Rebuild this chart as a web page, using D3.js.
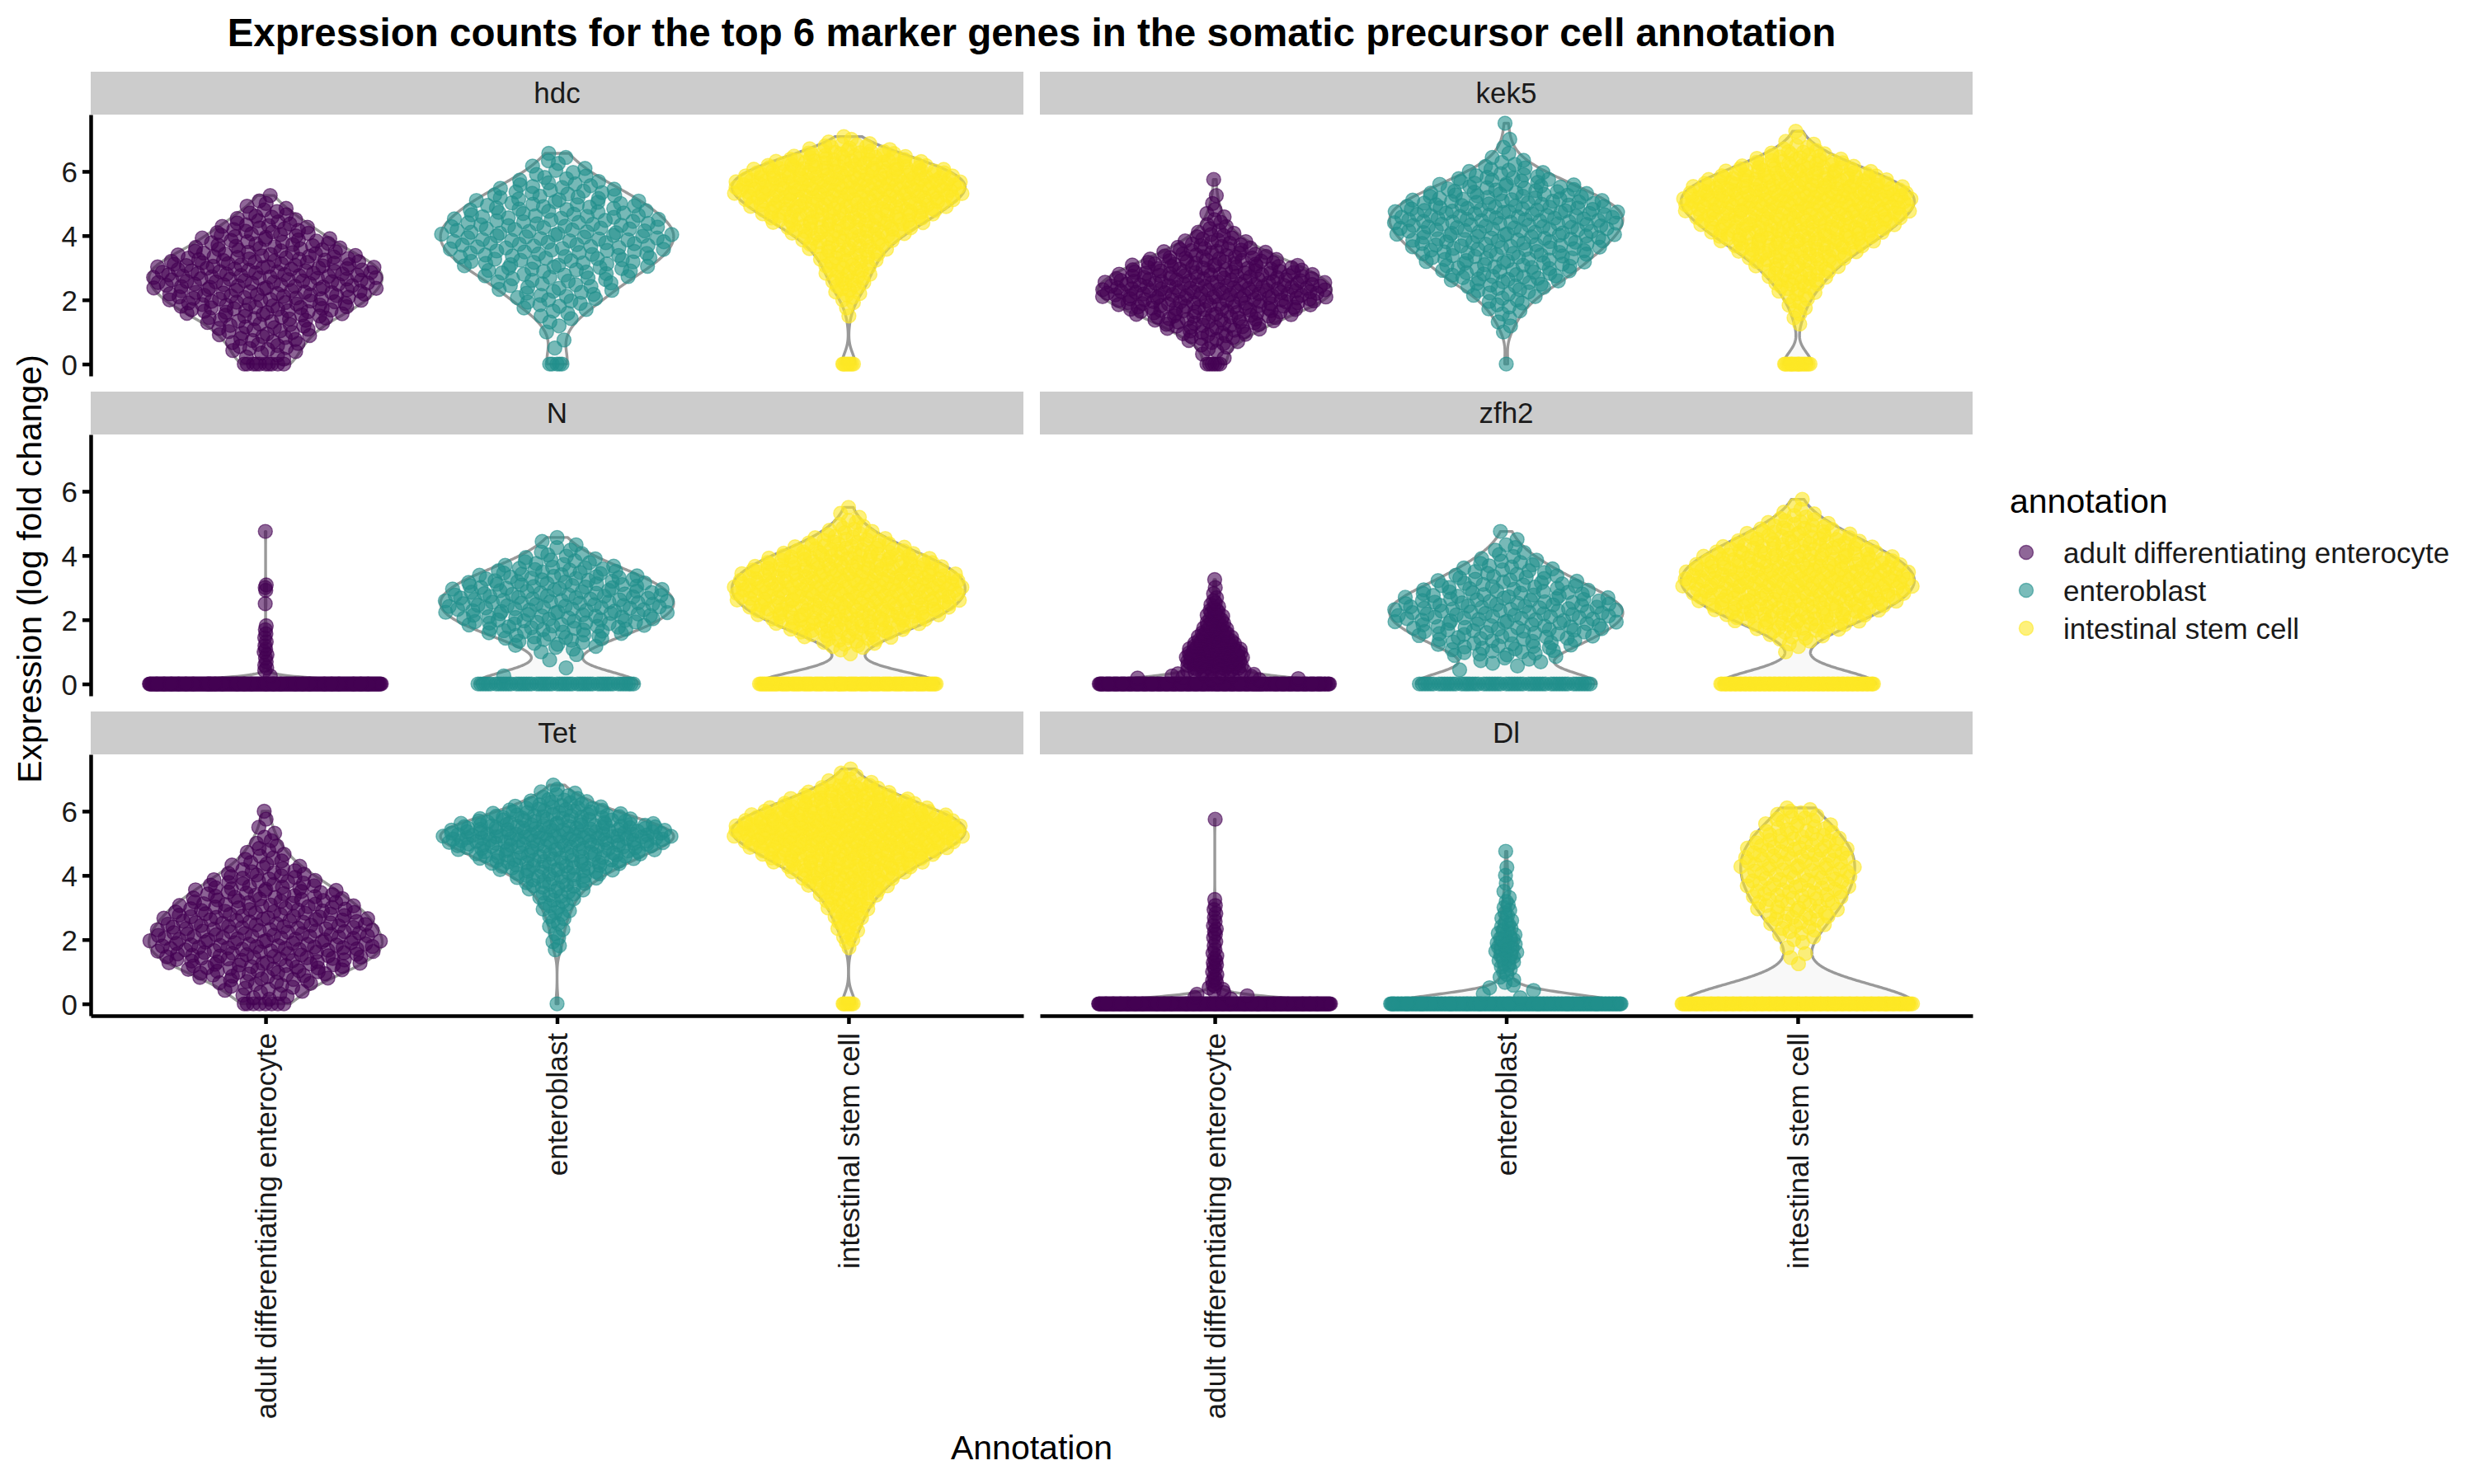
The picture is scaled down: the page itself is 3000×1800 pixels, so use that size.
<!DOCTYPE html>
<html><head><meta charset="utf-8">
<script src="https://cdn.jsdelivr.net/npm/d3@7"></script>
<style>body{margin:0;background:#fff}svg{display:block}</style>
</head><body><svg id="chart" width="3000" height="1800"></svg>
<script>
// ---------------- data ----------------
const genes = ["hdc", "kek5", "N", "zfh2", "Tet", "Dl"];
const annotations = ["adult differentiating enterocyte", "enteroblast", "intestinal stem cell"];
const annotationColors = ["#440154", "#21908C", "#FDE725"];
const yTicks = [0, 2, 4, 6];
const binWidth = 0.25; // count arrays: index i holds cells with expression near (i+1)*0.25

// number of cells with zero expression, per annotation
const hdcZeros = [10, 5, 8];
const kek5Zeros = [6, 1, 18];
const nZeros = [280, 55, 112];
const zfh2Zeros = [220, 55, 95];
const tetZeros = [8, 1, 8];
const dlZeros = [280, 200, 160];

// counts of expressing cells per 0.25 bin (starting at 0.25)
const hdcAdult = [4,8,8,10,11,15,19,21,22,24,25,24,21,17,14,12,10,7,5,3,1];
const hdcEnteroblast = [0,1,1,1,2,3,5,7,8,9,11,14,15,16,17,18,17,16,14,13,11,9,6,4,3,2];
const hdcStem = [0,0,0,0,0,1,1,3,5,7,8,9,10,13,15,19,24,29,34,37,42,45,44,38,31,21,11,3];

const kek5Adult = [2,4,8,12,16,22,28,33,37,34,31,27,20,15,10,7,4,3,2,1,1,0,1];
const kek5Enteroblast = [0,0,0,1,2,2,4,5,7,10,13,14,16,18,20,21,23,23,24,21,18,14,11,7,4,2,1,1,0,1];
const kek5Stem = [0,0,0,0,1,2,3,4,6,9,11,13,17,21,26,30,34,37,40,43,44,40,34,27,18,12,5,2,1];

const nAdult = [1,3,2,3,2,2,2,0,0,1,0,3,0,0,0,0,0,0,1];
const nEnteroblast = [1,1,1,3,8,12,17,20,22,23,22,20,18,14,9,6,3,2];
const nStem = [0,0,0,2,8,14,22,29,33,37,39,40,39,36,32,26,18,12,7,4,2,1];

const zfh2Adult = [15,25,33,30,22,17,12,9,7,4,2,1,1];
const zfh2Enteroblast = [0,2,6,11,13,16,19,21,22,21,18,15,12,9,7,4,3,1,1];
const zfh2Stem = [0,0,0,1,3,7,14,20,26,30,34,36,37,36,33,29,24,19,14,9,5,2,1];

const tetAdult = [6,8,12,17,20,23,25,24,23,22,21,19,17,15,12,10,7,5,4,3,2,1,1,1];
const tetEnteroblast = [0,0,0,0,0,0,2,2,2,3,4,5,6,8,11,15,20,26,31,38,44,38,27,19,12,6,2];
const tetStem = [0,0,0,0,0,0,1,3,4,5,7,8,10,13,17,20,26,32,38,44,49,51,45,37,28,20,12,5,2];

const dlAdult = [5,5,4,3,4,3,2,2,3,2,2,2,1,0,0,0,0,0,0,0,0,0,1];
const dlEnteroblast = [2,3,3,3,5,7,8,7,5,4,3,3,2,1,1,1,1,0,1];
const dlStem = [0,0,0,0,1,2,1,3,5,7,9,10,11,12,13,13,14,14,14,12,11,8,7,5];

const geneZeros = {hdc: hdcZeros, kek5: kek5Zeros, N: nZeros, zfh2: zfh2Zeros, Tet: tetZeros, Dl: dlZeros};
const geneBins = {
  hdc: [hdcAdult, hdcEnteroblast, hdcStem],
  kek5: [kek5Adult, kek5Enteroblast, kek5Stem],
  N: [nAdult, nEnteroblast, nStem],
  zfh2: [zfh2Adult, zfh2Enteroblast, zfh2Stem],
  Tet: [tetAdult, tetEnteroblast, tetStem],
  Dl: [dlAdult, dlEnteroblast, dlStem]
};

// ---------------- layout ----------------
const FONT = '"Liberation Sans", Arial, Helvetica, sans-serif';
const L = {left: [110, 1261], panelW: 1131, stripTop: 87, stripH: 52, panelH: 317, rowGap: 19};
const R = 8.5;
const svg = d3.select("#chart");

const x = d3.scalePoint().domain(annotations).range([0, L.panelW]).padding(0.6);
const y = d3.scaleLinear().domain([-0.37, 7.77]).range([L.panelH, 0]);
const color = d3.scaleOrdinal().domain(annotations).range(annotationColors);
const halfW = x.step() * 0.4;

function expand(nZero, counts) {
  const v = new Array(nZero).fill(0);
  counts.forEach((c, i) => {
    const center = (i + 1) * binWidth;
    for (let j = 0; j < c; j++) v.push(center + ((j + 0.5) / c - 0.5) * binWidth);
  });
  return v.sort(d3.ascending);
}
function bandwidth(v) {
  const sd = d3.deviation(v) || 1;
  return 0.9 * sd * Math.pow(v.length, -0.2);
}
function kde(v, bw, t) {
  let s = 0;
  for (const xi of v) { const u = (t - xi) / bw; s += Math.exp(-0.5 * u * u); }
  return s / (v.length * bw * Math.sqrt(2 * Math.PI));
}
function vdc(n) {
  let r = 0, d = 1;
  while (n > 0) { d *= 2; r += (n % 2) / d; n = Math.floor(n / 2); }
  return r;
}

// ---------------- title ----------------
svg.append("text").attr("x", 1251).attr("y", 56).attr("text-anchor", "middle")
  .attr("font-family", FONT).attr("font-weight", "bold").attr("font-size", 47.5)
  .text("Expression counts for the top 6 marker genes in the somatic precursor cell annotation");

// ---------------- panels ----------------
genes.forEach((g, gi) => {
  const col = gi % 2, row = Math.floor(gi / 2);
  const px = L.left[col];
  const sTop = L.stripTop + row * (L.stripH + L.panelH + L.rowGap);
  const pTop = sTop + L.stripH;

  svg.append("rect").attr("x", px).attr("y", sTop).attr("width", L.panelW).attr("height", L.stripH)
    .attr("fill", "#cccccc");
  svg.append("text").attr("x", px + L.panelW / 2).attr("y", sTop + 38).attr("text-anchor", "middle")
    .attr("font-family", FONT).attr("font-size", 35).attr("fill", "#1a1a1a").text(g);

  const panel = svg.append("g").attr("transform", `translate(${px},${pTop})`);

  const groups = annotations.map((a, ai) => {
    const vals = expand(geneZeros[g][ai], geneBins[g][ai]);
    const bw = bandwidth(vals);
    const lo = vals[0], hi = vals[vals.length - 1];
    const grid = d3.range(400).map(k => lo + (hi - lo) * k / 399);
    const dens = grid.map(t => kde(vals, bw, t));
    const maxD = d3.max(dens);
    return {a, vals, bw, grid, dens, maxD};
  });

  const vg = panel.append("g");
  groups.forEach(G => {
    const cx = x(G.a);
    const right = G.grid.map((t, k) => [cx + G.dens[k] / G.maxD * halfW, y(t)]);
    const left = G.grid.map((t, k) => [cx - G.dens[k] / G.maxD * halfW, y(t)]).reverse();
    vg.append("path").attr("d", d3.line()(right.concat(left)) + "Z")
      .attr("fill", "#f8f8f8").attr("stroke", "#999999").attr("stroke-width", 3.4)
      .attr("stroke-linejoin", "round");
  });

  const pg = panel.append("g");
  groups.forEach(G => {
    const cx = x(G.a);
    const c = color(G.a);
    const pts = G.vals.map((v, k) => {
      const rel = Math.min(1, kde(G.vals, G.bw, v) / G.maxD);
      return {v, off: (2 * vdc(k + 1) - 1) * rel * halfW};
    });
    pg.append("g").selectAll("circle").data(pts).join("circle")
      .attr("cx", d => cx + d.off).attr("cy", d => y(d.v)).attr("r", R)
      .attr("fill", c).attr("fill-opacity", 0.6)
      .attr("stroke", c).attr("stroke-opacity", 0.6).attr("stroke-width", 1.4);
  });

  if (col === 0) {
    const ax = panel.append("g").call(d3.axisLeft(y).tickValues(yTicks).tickSize(10).tickSizeOuter(0).tickPadding(6));
    ax.attr("font-family", FONT).attr("font-size", 35);
    ax.selectAll("path,line").attr("stroke", "#000").attr("stroke-width", 4.5);
    ax.selectAll("text").attr("fill", "#1a1a1a").attr("dy", "0.36em");
  }
  if (row === 2) {
    const ax = panel.append("g").attr("transform", `translate(0,${L.panelH})`)
      .call(d3.axisBottom(x).tickSize(10).tickSizeOuter(0));
    ax.attr("font-family", FONT).attr("font-size", 35);
    ax.selectAll("path,line").attr("stroke", "#000").attr("stroke-width", 4.5);
    ax.selectAll("text").attr("fill", "#1a1a1a").attr("transform", "rotate(-90)")
      .attr("x", -21).attr("y", 0).attr("dy", "0.35em").attr("text-anchor", "end");
  }
});

// ---------------- axis titles ----------------
svg.append("text").attr("transform", "translate(50,690) rotate(-90)").attr("text-anchor", "middle")
  .attr("font-family", FONT).attr("font-size", 41).text("Expression (log fold change)");
svg.append("text").attr("x", 1251).attr("y", 1770).attr("text-anchor", "middle")
  .attr("font-family", FONT).attr("font-size", 41).text("Annotation");

// ---------------- legend ----------------
const lg = svg.append("g");
lg.append("text").attr("x", 2437).attr("y", 622).attr("font-family", FONT).attr("font-size", 41).text("annotation");
annotations.forEach((a, i) => {
  const cy = 670 + i * 46;
  lg.append("circle").attr("cx", 2457).attr("cy", cy).attr("r", R)
    .attr("fill", color(a)).attr("fill-opacity", 0.6)
    .attr("stroke", color(a)).attr("stroke-opacity", 0.6).attr("stroke-width", 1.4);
  lg.append("text").attr("x", 2502).attr("y", cy + 12.5).attr("font-family", FONT).attr("font-size", 35)
    .attr("fill", "#1a1a1a").text(a);
});
</script></body></html>
